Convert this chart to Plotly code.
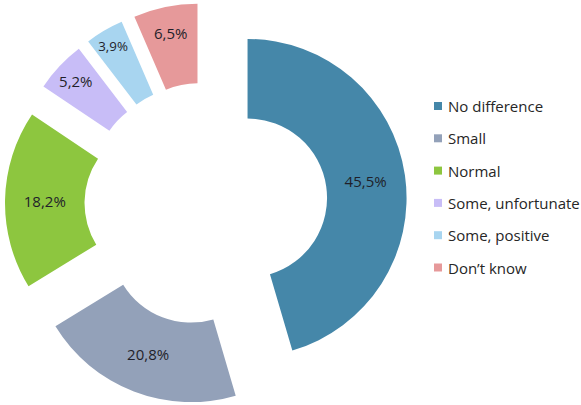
import plotly.graph_objects as go

# Survey answers and their shares (%)
categories = ["No difference", "Small", "Normal", "Some, unfortunate", "Some, positive", "Don\u2019t know"]
shares = [45.5, 20.8, 18.2, 5.2, 3.9, 6.5]
colors = ["#4587A9", "#93A1B9", "#8DC63F", "#C8BDF7", "#A8D5F0", "#E6999A"]

W, H = 581, 405

# Decimal comma labels
slice_text = [f"{v:.1f}%".replace(".", ",") for v in shares]

fig = go.Figure()
fig.add_trace(go.Pie(
    labels=categories,
    values=shares,
    text=slice_text,
    textinfo="text",
    textposition="inside",
    insidetextorientation="horizontal",
    textfont=dict(family="Open Sans", size=15, color="#1f1f2a"),
    marker=dict(colors=colors, line=dict(width=0)),
    hole=0.5,
    pull=[0.264] * len(shares),
    sort=False,
    direction="clockwise",
    rotation=0,
    showlegend=False,
    domain=dict(x=[0.0086, 0.7005], y=[0.0, 0.993]),
    hoverinfo="label+text",
))

# Legend on the right: swatch + label per category
legend_x_px = 434
legend_y0_px = 106
legend_step_px = 32.3
sw = 8
for i, (name, col) in enumerate(zip(categories, colors)):
    cy = legend_y0_px + i * legend_step_px
    fig.add_shape(
        type="rect", xref="paper", yref="paper",
        x0=legend_x_px / W, x1=(legend_x_px + sw) / W,
        y0=1 - (cy + sw / 2) / H, y1=1 - (cy - sw / 2) / H,
        fillcolor=col, line=dict(width=0),
    )
    fig.add_annotation(
        x=(legend_x_px + 12) / W, y=1 - cy / H,
        xref="paper", yref="paper",
        xanchor="left", yanchor="middle",
        text=name, showarrow=False,
        font=dict(family="Open Sans", size=15, color="#262626"),
    )

fig.update_layout(
    width=W, height=H,
    margin=dict(l=0, r=0, t=0, b=0),
    paper_bgcolor="white",
    plot_bgcolor="white",
)

fig.write_html("out.html")
